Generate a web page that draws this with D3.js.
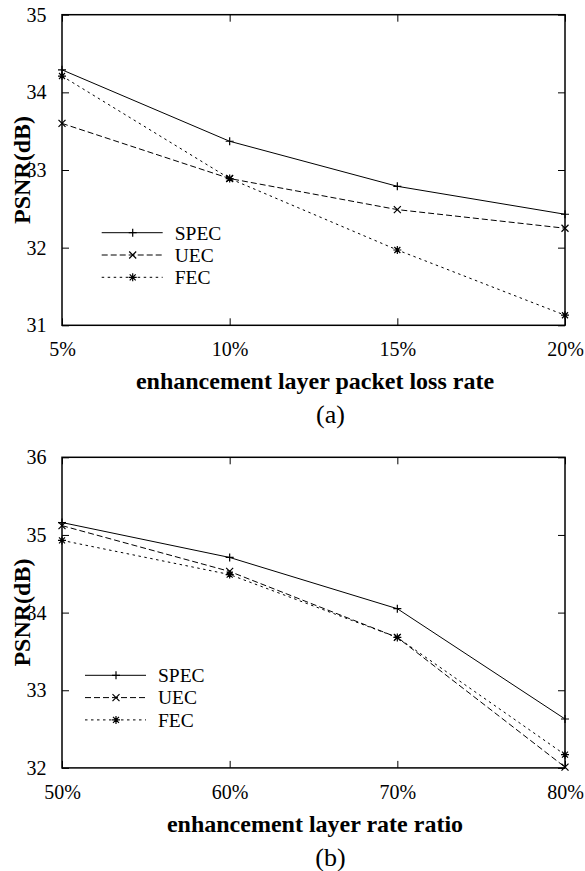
<!DOCTYPE html>
<html>
<head>
<meta charset="utf-8">
<script src="https://cdn.jsdelivr.net/npm/d3@7"></script>
<style>
  body { margin: 0; background: #fff; }
  svg text { font-family: "Liberation Serif", "Times New Roman", serif; fill: #000; }
  .tick line { stroke: #000; stroke-width: 1; }
  .tick text { font-size: 20px; }
  .frame { fill: none; stroke: #000; stroke-width: 1.5; }
  .series { fill: none; stroke: #000; stroke-width: 1; }
  .mark { fill: none; stroke: #000; stroke-width: 1.2; }
  .axis-title { font-size: 24px; font-weight: bold; }
  .legend text { font-size: 19.5px; }
  .caption { font-size: 26px; }
</style>
</head>
<body>
<div id="chart"></div>
<script>
// (a) PSNR vs enhancement layer packet loss rate
var lossRates = ["5%", "10%", "15%", "20%"];
var specA = [34.29, 33.37, 32.79, 32.43];
var uecA = [33.60, 32.89, 32.49, 32.25];
var fecA = [34.21, 32.89, 31.97, 31.13];
var yTicksA = [31, 32, 33, 34, 35];

// (b) PSNR vs enhancement layer rate ratio
var rateRatios = ["50%", "60%", "70%", "80%"];
var specB = [35.16, 34.71, 34.05, 32.63];
var uecB = [35.12, 34.53, 33.68, 32.01];
var fecB = [34.93, 34.49, 33.68, 32.17];
var yTicksB = [32, 33, 34, 35, 36];

var seriesNames = ["SPEC", "UEC", "FEC"];

var width = 585, height = 871;
var margin = { left: 62, right: 20 };
var plotW = width - margin.left - margin.right;
var plotH = 310.6;

// line + marker style per series (gnuplot lt 1,2,3)
var styles = {
    SPEC: { dash: null, mark: "M-4,0H4M0,-4V4" },
    UEC: { dash: "6,3", mark: "M-3.5,-3.5L3.5,3.5M-3.5,3.5L3.5,-3.5" },
    FEC: { dash: "2.5,3.5", mark: "M-4,0H4M0,-4V4M-3,-3L3,3M-3,3L3,-3" }
};

var svg = d3.select("#chart")
    .append("svg")
    .attr("width", width)
    .attr("height", height);

function drawPanel(opts) {
    var g = svg.append("g")
        .attr("transform", "translate(" + margin.left + "," + opts.top + ")");

    var x = d3.scalePoint().domain(opts.cats).range([0, plotW]);
    var y = d3.scaleLinear().domain(d3.extent(opts.yTicks)).range([plotH, 0]);

    // bottom + left axes with labels, top + right mirrored ticks
    g.append("g")
        .attr("transform", "translate(0," + plotH + ")")
        .call(d3.axisBottom(x).tickSize(-7).tickSizeOuter(0).tickPadding(17))
        .call(function (a) { a.select(".domain").remove(); });
    g.append("g")
        .call(d3.axisTop(x).tickSize(-7).tickSizeOuter(0).tickFormat(""))
        .call(function (a) { a.select(".domain").remove(); });
    g.append("g")
        .call(d3.axisLeft(y).tickValues(opts.yTicks).tickFormat(d3.format("d"))
            .tickSize(-7).tickSizeOuter(0).tickPadding(15.5))
        .call(function (a) { a.select(".domain").remove(); });
    g.append("g")
        .attr("transform", "translate(" + plotW + ",0)")
        .call(d3.axisRight(y).tickValues(opts.yTicks).tickFormat("")
            .tickSize(-7).tickSizeOuter(0))
        .call(function (a) { a.select(".domain").remove(); });

    g.append("rect")
        .attr("class", "frame")
        .attr("width", plotW)
        .attr("height", plotH);

    var line = d3.line()
        .x(function (d, i) { return x(opts.cats[i]); })
        .y(function (d) { return y(d); });

    seriesNames.forEach(function (name, k) {
        var vals = opts.series[k];
        var st = styles[name];
        g.append("path")
            .datum(vals)
            .attr("class", "series")
            .attr("stroke-dasharray", st.dash)
            .attr("d", line);
        g.selectAll(".mark-" + name)
            .data(vals)
            .enter().append("path")
            .attr("class", "mark mark-" + name)
            .attr("transform", function (d, i) { return "translate(" + x(opts.cats[i]) + "," + y(d) + ")"; })
            .attr("d", st.mark);
    });

    // legend
    var lg = g.append("g")
        .attr("class", "legend")
        .attr("transform", "translate(" + opts.legendX + ",218)");
    seriesNames.forEach(function (name, k) {
        var st = styles[name];
        var row = lg.append("g").attr("transform", "translate(0," + (k * 22.3) + ")");
        row.append("line")
            .attr("class", "series")
            .attr("x1", 0).attr("x2", 61)
            .attr("stroke-dasharray", st.dash);
        row.append("path")
            .attr("class", "mark")
            .attr("transform", "translate(31,0)")
            .attr("d", st.mark);
        row.append("text")
            .attr("x", 73)
            .attr("y", 6.8)
            .text(name);
    });

    // axis titles
    g.append("text")
        .attr("class", "axis-title")
        .attr("x", plotW / 2 + 1.5)
        .attr("y", plotH + 63.7)
        .attr("text-anchor", "middle")
        .text(opts.xTitle);
    g.append("text")
        .attr("class", "axis-title")
        .attr("transform", "translate(" + (30 - margin.left) + "," + (plotH / 2) + ") rotate(-90)")
        .attr("text-anchor", "middle")
        .text("PSNR(dB)");
    g.append("text")
        .attr("class", "caption")
        .attr("x", plotW / 2 + 17)
        .attr("y", plotH + 97.7)
        .attr("text-anchor", "middle")
        .text(opts.caption);
}

drawPanel({
    top: 14.7,
    cats: lossRates,
    yTicks: yTicksA,
    series: [specA, uecA, fecA],
    legendX: 39.7,
    xTitle: "enhancement layer packet loss rate",
    caption: "(a)"
});

drawPanel({
    top: 457.3,
    cats: rateRatios,
    yTicks: yTicksB,
    series: [specB, uecB, fecB],
    legendX: 23,
    xTitle: "enhancement layer rate ratio",
    caption: "(b)"
});
</script>
</body>
</html>
